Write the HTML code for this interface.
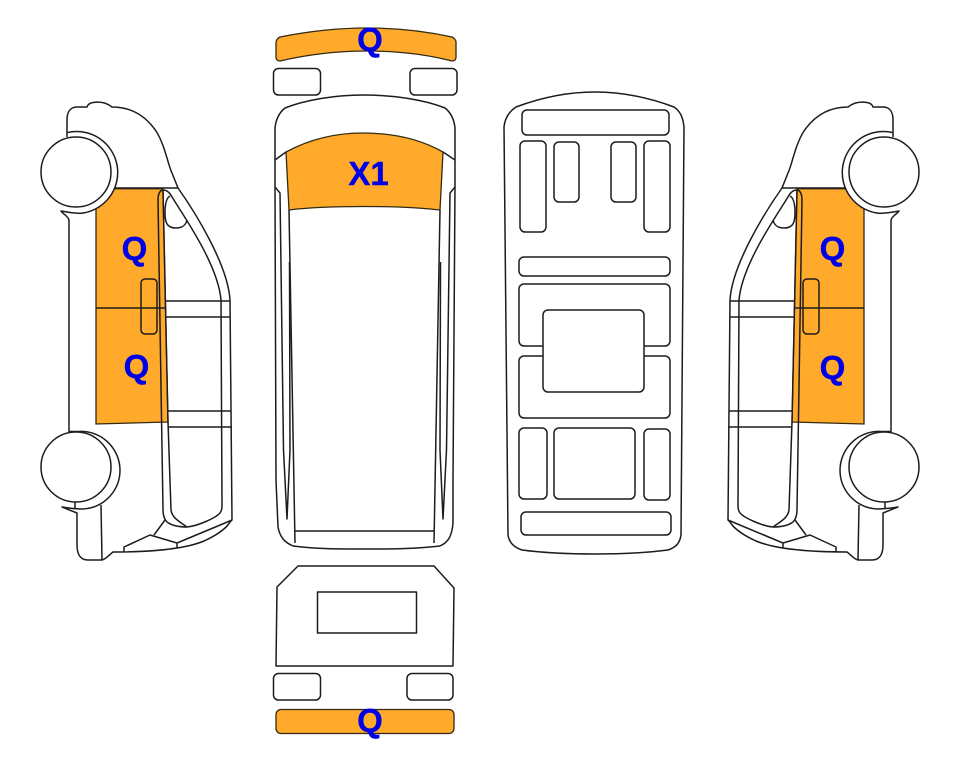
<!DOCTYPE html>
<html><head><meta charset="utf-8"><style>
html,body{margin:0;padding:0;background:#fff;width:963px;height:768px;overflow:hidden}
svg{display:block}
.l{fill:none;stroke:#1c1c1c;stroke-width:1.5;stroke-linejoin:round}
.o{fill:#ffaa2b;stroke:#332a10;stroke-width:1.3}
.w{fill:#fff;stroke:#1c1c1c;stroke-width:1.5}
text{font-family:"Liberation Sans",sans-serif;font-weight:bold;fill:#0000e6;stroke:#0000e6;stroke-width:.4;font-size:33px;text-anchor:middle}
</style></head><body>
<svg width="963" height="768" viewBox="0 0 963 768" xmlns="http://www.w3.org/2000/svg">
<defs>
<g id="van">
<path class="o" d="M96 188.7H163L168 422L96 424Z"/>
<path class="l" d="M96 308H165"/>
<circle cx="77" cy="172.5" r="41" fill="#fff"/>
<path class="l" d="M67 137V120C67 111 71 107 77 107L87 107C88 104 90 103 93 102.500C99 101.500 106 102 112 107C130 107 145 115 156 131C165 145 168 165 172 173L178 188H115"/>
<path class="l" d="M67 132.700A41 41 0 1 1 80 213.400C73 213 66 212 61 211C64 215 68 216 69 220V431.500H78A39 39 0 0 1 120 470A39 39 0 0 1 83 509C76 509 68 508 62 507L77 513V545C77 555 81 560 88 560H102L101 505"/>
<path class="l" d="M102 560C106 559 109 555 113 552C150 552 185 549 204 541C215 536 226 529 230 522L232 520L230 300C228 265 195 212 178 188"/>
<circle class="w" cx="76" cy="172" r="35"/>
<circle class="w" cx="76" cy="467" r="35"/>
<path class="l" d="M75 502V509"/>
<path class="l" d="M158 200C158 194 160 190 163 190C167 190 170 193 172 197C185 218 218 265 221 300L222 505C222 510 221 512 219 514C215 518 198 526 187 527C178 527 171 525 167 522C164 519 163 515 163 510Z"/>
<path class="l" d="M163 190L168 422L171 510C172 518 180 522 187 527"/>
<path class="l" d="M187 220C186 225 182 228 176 228C168 228 165 224 165 213C165 205 166 198 170 196"/>
<path class="l" d="M165 301H230M165 317H230M168 411H231M168 427H232"/>
<path class="l" d="M165 520L154 535M124 552L124 547L150 535L177 543V548M177 543L225 523L232 520"/>
<rect class="l" x="141" y="279" width="16" height="55" rx="4"/>
</g>
</defs>
<use href="#van"/>
<use href="#van" transform="translate(960 0) scale(-1 1)"/>

<!-- top view -->
<path class="o" d="M276 43C276 40 278 38 280 37C310 31 340 28 367 28C395 28 425 31 452 37C454 38 456 40 456 42V57C456 60 454 61 452 61C425 54 395 51 367 51C340 51 310 54 280 61C278 61 276 60 276 57Z"/>
<rect class="l" x="273.500" y="68.500" width="47" height="26.500" rx="5"/>
<rect class="l" x="410" y="68.500" width="47" height="26.500" rx="5"/>
<path class="l" d="M275 128C276 118 280 112 285 108C305 100 335 95 363 95C395 95 425 100 445 108C450 112 454 118 455 128V187L453 480L453 523C452 535 449 542 440 546C415 549 390 549 363 549C340 549 315 549 293 546C284 542 280 537 278 527L276 480L275 187Z"/>
<path class="o" d="M286 152C310 139 335 133 363 133C392 133 420 139 443 152L440 210C415 207 390 206.500 363 206.500C340 206.500 312 207 289 210Z"/>
<path class="l" d="M275 160L286 152M443 152L455 160"/>
<path class="l" d="M289 210L295 543M440 210L434 543M295 531H434"/>
<path class="l" d="M275 187L280 193L283.500 450L287 519L290 450L289.500 262"/>
<path class="l" d="M455 187L450 193L446.500 450L443 519L440 450L440.500 262"/>

<!-- rear view -->
<path class="l" d="M277 587L298 566H434L454 588L453 666H276Z"/>
<rect class="l" x="317.500" y="592" width="99" height="41"/>
<rect class="l" x="273.500" y="673.500" width="47" height="26.500" rx="5"/>
<rect class="l" x="407" y="673.500" width="46" height="26.500" rx="5"/>
<rect class="o" x="276" y="709.500" width="178" height="24" rx="5"/>

<!-- roof / floor view -->
<path class="l" d="M504 127C505 117 510 111 516 107C540 98 568 92 595 92C622 92 650 98 674 107C680 111 683 117 684 127L681 535C680 542 677 547 668 550C645 553 620 554 595 554C570 554 545 553 522 550C513 547 509 542 508 535Z"/>
<rect class="l" x="522" y="110" width="147" height="25" rx="5"/>
<rect class="l" x="520" y="141" width="26" height="91" rx="5"/>
<rect class="l" x="554" y="142" width="25" height="60" rx="5"/>
<rect class="l" x="611" y="142" width="25" height="60" rx="5"/>
<rect class="l" x="644" y="141" width="26" height="91" rx="5"/>
<rect class="l" x="519" y="257" width="151" height="19" rx="5"/>
<rect class="l" x="519" y="284" width="151" height="62" rx="5"/>
<rect class="l" x="519" y="356" width="151" height="62" rx="5"/>
<rect class="w" x="543" y="310" width="101" height="82" rx="5"/>
<rect class="l" x="519" y="428" width="28" height="71" rx="5"/>
<rect class="l" x="554" y="428" width="81" height="71" rx="5"/>
<rect class="l" x="644" y="429" width="26" height="71" rx="5"/>
<rect class="l" x="521" y="512" width="150" height="23" rx="5"/>

<text x="134.500" y="260">Q</text>
<text x="136.500" y="378">Q</text>
<text x="832.500" y="260">Q</text>
<text x="832.500" y="379">Q</text>
<text x="370" y="51">Q</text>
<text x="370" y="732">Q</text>
<text x="368.500" y="185">X1</text>
</svg>
</body></html>
